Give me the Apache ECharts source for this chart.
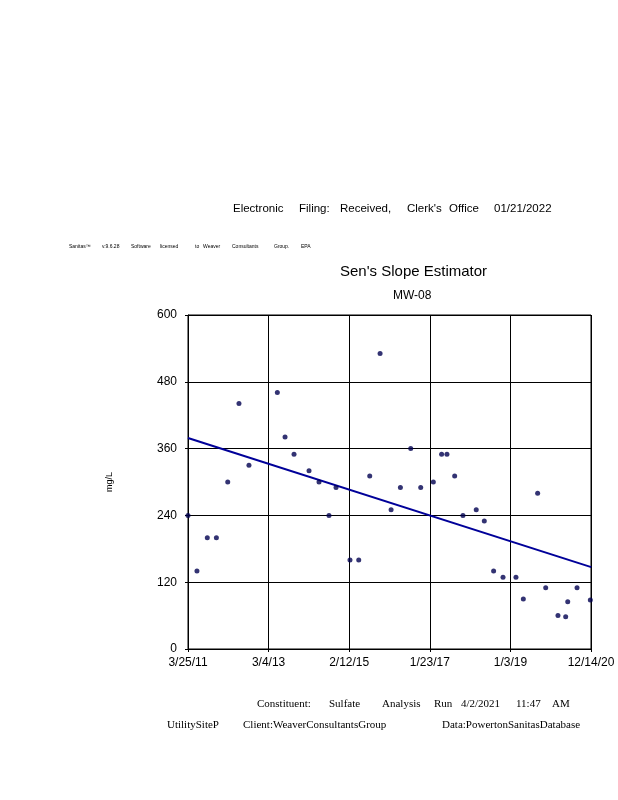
<!DOCTYPE html>
<html>
<head>
<meta charset="utf-8">
<script src="https://cdn.jsdelivr.net/npm/echarts@6/dist/echarts.min.js"></script>
<style>html,body{margin:0;padding:0;background:#fff;}#c{width:618px;height:800px;}</style>
</head>
<body>
<div id="c"></div>
<script>
// ---- data ----
var sampleDates = ['2011-03-25','2011-06-12','2011-09-11','2011-11-30','2012-03-09','2012-06-16','2012-09-12',
  '2013-05-20','2013-07-27','2013-10-14','2014-02-23','2014-05-22','2014-08-18','2014-10-19',
  '2015-02-19','2015-05-07','2015-08-12','2015-11-11','2016-02-16','2016-05-08','2016-08-07','2016-11-03',
  '2017-02-22','2017-05-06','2017-06-22','2017-08-29','2017-11-10','2018-03-07','2018-05-17','2018-08-07',
  '2018-10-29','2019-02-20','2019-04-26','2019-08-30','2019-11-09','2020-02-25','2020-05-03','2020-05-21',
  '2020-08-11','2020-12-06','2020-12-14'];
var sulfate = [240,140,200,200,300,441,330,
  461,381,350,320,300,240,290,
  160,160,311,531,250,290,360,290,
  300,350,350,311,240,250,230,140,
  129,129,90,280,110,60,58,85,
  110,88,93];
var slopeDates = ['2011-03-25','2020-12-14'];
var slopeValues = [379,147];
var xTickLabels = ['3/25/11','3/4/13','2/12/15','1/23/17','1/3/19','12/14/20'];
var yTicks = [0,120,240,360,480,600];

var baseMs = Date.UTC(2011,2,25);
function dayOf(s){var p=s.split('-');return Math.round((Date.UTC(+p[0],+p[1]-1,+p[2])-baseMs)/86400000);}
var tickStep = 710;
var pts = sampleDates.map(function(d,i){return [dayOf(d), sulfate[i]];});
var slope = slopeDates.map(function(d,i){return [dayOf(d), slopeValues[i]];});

var chart = echarts.init(document.getElementById('c'));
var sans = 'Liberation Sans, Arial, sans-serif';
var serif = 'Liberation Serif, Times New Roman, serif';
function txt(x,y,s,size,font){return {type:'text',left:x,top:y,style:{text:s,font:size+'px '+font,fill:'#000'}};}
var graphics = [];
[['Electronic',233],['Filing:',299],['Received,',340],["Clerk's",407],['Office',449],['01/21/2022',494]].forEach(function(w){graphics.push(txt(w[1],203,w[0],11.5,sans));});
[['Sanitas\u2122',69],['v.9.6.28',102],['Software',131],['licensed',160],['to',195],['Weaver',203],['Consultants',232],['Group.',274],['EPA',301]].forEach(function(w){graphics.push(txt(w[1],244,w[0],5,sans));});
[['Constituent:',257],['Sulfate',329],['Analysis',382],['Run',434],['4/2/2021',461],['11:47',516],['AM',552]].forEach(function(w){graphics.push(txt(w[1],699,w[0],11,serif));});
[['UtilitySiteP',167],['Client:WeaverConsultantsGroup',243],['Data:PowertonSanitasDatabase',442]].forEach(function(w){graphics.push(txt(w[1],720,w[0],11,serif));});
graphics.push({type:'text',left:340,top:264,style:{text:"Sen's Slope Estimator",font:'15px '+sans,fill:'#000'}});
graphics.push({type:'text',left:393,top:290,style:{text:'MW-08',font:'12px '+sans,fill:'#000'}});

chart.setOption({
  animation:false,
  backgroundColor:'#fff',
  grid:{left:188,right:27,top:315,bottom:151,show:true,borderColor:'#000',borderWidth:1},
  graphic:graphics,
  xAxis:{type:'value',min:0,max:tickStep*5,interval:tickStep,
    axisLine:{show:true,lineStyle:{color:'#000'}},
    axisTick:{show:true,length:3,lineStyle:{color:'#000'}},
    splitLine:{show:true,lineStyle:{color:'#000',width:1}},
    axisLabel:{color:'#000',fontSize:12,fontFamily:sans,margin:8,
      formatter:function(v){return xTickLabels[Math.round(v/tickStep)]||'';}}},
  yAxis:{type:'value',min:yTicks[0],max:yTicks[yTicks.length-1],interval:120,
    name:'mg/L',nameLocation:'middle',nameGap:74,nameTextStyle:{color:'#000',fontSize:9,fontFamily:sans},
    axisLine:{show:true,lineStyle:{color:'#000'}},
    axisTick:{show:true,length:3,lineStyle:{color:'#000'}},
    splitLine:{show:true,lineStyle:{color:'#000',width:1}},
    axisLabel:{color:'#000',fontSize:12,fontFamily:sans,margin:11}},
  series:[
    {type:'line',data:slope,symbol:'none',lineStyle:{color:'#000099',width:2},z:2},
    {type:'scatter',data:pts,symbol:'circle',symbolSize:5,itemStyle:{color:'#000050'},z:3}
  ]
});
</script>
</body>
</html>
